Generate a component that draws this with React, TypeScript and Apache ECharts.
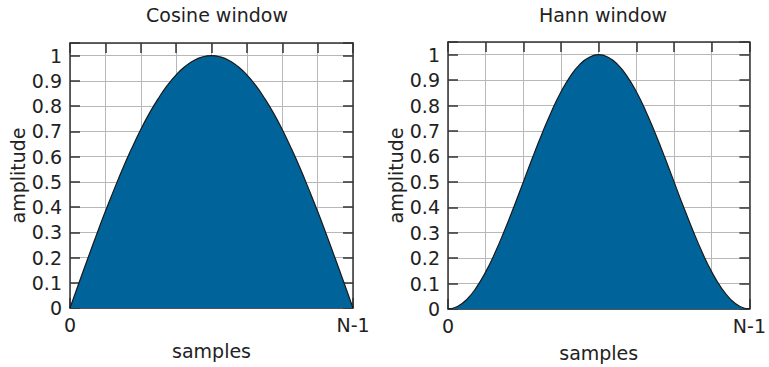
import React, { useEffect, useRef } from "react";
import * as echarts from "echarts";

// sample positions (in units of (N-1)/8)
const positions = [
  0, 0.25, 0.5, 0.75, 1, 1.25, 1.5, 1.75, 2, 2.25, 2.5, 2.75, 3, 3.25, 3.5, 3.75, 4,
  4.25, 4.5, 4.75, 5, 5.25, 5.5, 5.75, 6, 6.25, 6.5, 6.75, 7, 7.25, 7.5, 7.75, 8,
];
const cosineValues = [
  0, 0.098, 0.195, 0.29, 0.383, 0.471, 0.556, 0.634, 0.707, 0.773, 0.831, 0.882, 0.924, 0.957, 0.981, 0.995, 1,
  0.995, 0.981, 0.957, 0.924, 0.882, 0.831, 0.773, 0.707, 0.634, 0.556, 0.471, 0.383, 0.29, 0.195, 0.098, 0,
];
const hannValues = [
  0, 0.0096, 0.038, 0.084, 0.146, 0.222, 0.309, 0.402, 0.5, 0.598, 0.691, 0.778, 0.854, 0.916, 0.962, 0.99, 1,
  0.99, 0.962, 0.916, 0.854, 0.778, 0.691, 0.598, 0.5, 0.402, 0.309, 0.222, 0.146, 0.084, 0.038, 0.0096, 0,
];
const titles = ["Cosine window", "Hann window"];
const xTickLabels: Record<number, string> = { 0: "0", 8: "N-1" };
const xName = "samples";
const yName = "amplitude";

const FONT = "DejaVu Sans";
const FS = 19;
const TEXT = "#222";
const AXIS = "#333";
const GRIDC = "#b8b8b8";
const FILL = "#00649a";

export default function App() {
  const ref = useRef<HTMLDivElement>(null);
  useEffect(() => {
    if (!ref.current) return;
    const chart = echarts.init(ref.current, undefined, { renderer: "svg" });
    const grids = [
      { left: 70, top: 43, width: 283, height: 265 },
      { left: 448, top: 42, width: 302, height: 268 },
    ];
    const xAxes: any[] = [];
    const yAxes: any[] = [];
    const line = { show: true, onZero: false, lineStyle: { color: AXIS, width: 1.5 } };
    const tick = { show: true, inside: true, length: 10, lineStyle: { color: AXIS, width: 1.5 } };
    grids.forEach((_, i) => {
      xAxes.push({
        type: "value",
        gridIndex: i,
        min: 0,
        max: 8,
        interval: 1,
        position: "bottom",
        name: xName,
        nameLocation: "middle",
        nameGap: i === 0 ? 33 : 34,
        nameTextStyle: { fontFamily: FONT, fontSize: FS, color: TEXT },
        axisLine: line,
        axisTick: tick,
        axisLabel: {
          fontFamily: FONT,
          fontSize: FS,
          color: TEXT,
          margin: 7,
          formatter: (v: number) => xTickLabels[v] ?? "",
        },
        splitLine: { show: true, lineStyle: { color: GRIDC, width: 1 } },
      });
      xAxes.push({
        type: "value",
        gridIndex: i,
        min: 0,
        max: 8,
        interval: 1,
        position: "top",
        axisLine: line,
        axisTick: tick,
        axisLabel: { show: false },
        splitLine: { show: false },
      });
      yAxes.push({
        type: "value",
        gridIndex: i,
        min: 0,
        max: 1.05,
        interval: 0.1,
        position: "left",
        name: yName,
        nameLocation: "middle",
        nameGap: 42,
        nameTextStyle: { fontFamily: FONT, fontSize: FS, color: TEXT },
        axisLine: line,
        axisTick: tick,
        axisLabel: {
          fontFamily: FONT,
          fontSize: FS,
          color: TEXT,
          margin: 8,
          formatter: (v: number) => (v > 1.001 ? "" : String(Math.round(v * 10) / 10)),
        },
        splitLine: { show: true, lineStyle: { color: GRIDC, width: 1 } },
      });
      yAxes.push({
        type: "value",
        gridIndex: i,
        min: 0,
        max: 1.05,
        interval: 0.1,
        position: "right",
        axisLine: line,
        axisTick: tick,
        axisLabel: { show: false },
        splitLine: { show: false },
      });
    });
    const mk = (vals: number[], i: number) => ({
      type: "line",
      xAxisIndex: i * 2,
      yAxisIndex: i * 2,
      data: positions.map((p, k) => [p, vals[k]]),
      smooth: true,
      showSymbol: false,
      lineStyle: { color: "#1a1a1a", width: 1.2 },
      areaStyle: { color: FILL, opacity: 1 },
      z: 3,
    });
    chart.setOption({
      animation: false,
      backgroundColor: "#fff",
      title: titles.map((t, i) => ({
        text: t,
        left: i === 0 ? 212 : 598,
        top: 0,
        textAlign: "center",
        textStyle: { fontFamily: FONT, fontSize: FS, fontWeight: "normal", color: TEXT },
      })),
      grid: grids,
      xAxis: xAxes,
      yAxis: yAxes,
      series: [mk(cosineValues, 0), mk(hannValues, 1)],
    });
    return () => chart.dispose();
  }, []);
  return <div ref={ref} style={{ width: 769, height: 367, position: "absolute", left: 0, top: 0 }} />;
}
